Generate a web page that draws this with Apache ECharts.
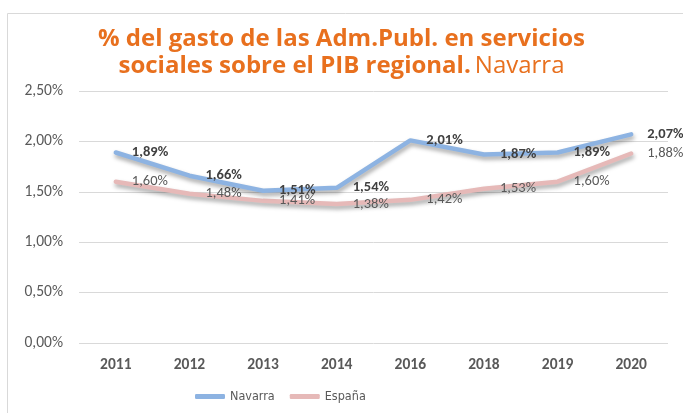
<!DOCTYPE html>
<html>
<head>
<meta charset="utf-8">
<script src="https://cdn.jsdelivr.net/npm/echarts@6/dist/echarts.min.js"></script>
<style>
  html, body { margin: 0; padding: 0; background: #fff; }
  #chart { width: 683px; height: 413px; }
</style>
</head>
<body>
<div id="chart"></div>
<script>
// data
const years = ['2011', '2012', '2013', '2014', '2016', '2018', '2019', '2020'];
const navarra = [1.89, 1.66, 1.51, 1.54, 2.01, 1.87, 1.89, 2.07];
const espana = [1.60, 1.48, 1.41, 1.38, 1.42, 1.53, 1.60, 1.88];
const yTicks = [0, 0.5, 1, 1.5, 2, 2.5];

const pct = v => v.toFixed(2).replace('.', ',') + '%';

const chart = echarts.init(document.getElementById('chart'));

const shadow = {
  shadowColor: 'rgba(0,0,0,0.35)',
  shadowBlur: 4,
  shadowOffsetY: 3,
  shadowOffsetX: 1,
};

chart.setOption({
  animation: false,
  textStyle: { fontFamily: 'Calibri, Carlito, "Open Sans", sans-serif' },
  graphic: [
    {
      type: 'rect',
      shape: { x: 7.5, y: 13.5, width: 700, height: 440 },
      style: { fill: 'none', stroke: '#d9d9d9', lineWidth: 1 },
      silent: true,
      z: -1,
    },
  ],
  title: {
    left: 'center',
    top: 21,
    padding: [5, 0, 5, 14],
    text: '{b|% del gasto de las Adm.Publ. en servicios}\n{b|sociales sobre el PIB regional.} {n|Navarra}',
    textStyle: {
      rich: {
        b: {
          fontFamily: '"Open Sans", sans-serif',
          fontWeight: 'bold',
          fontSize: 24,
          color: '#e8701e',
          lineHeight: 27,
        },
        n: {
          fontFamily: '"Open Sans", sans-serif',
          fontWeight: 'normal',
          fontSize: 24,
          color: '#e8701e',
          lineHeight: 27,
        },
      },
    },
  },
  legend: {
    bottom: 5,
    left: 190,
    itemWidth: 30,
    itemHeight: 5,
    itemGap: 15,
    icon: 'roundRect',
    textStyle: { color: '#595959', fontSize: 12.5, fontFamily: '"Liberation Sans Narrow", "DejaVu Sans Condensed", sans-serif' },
    data: ['Navarra', 'España'],
  },
  grid: { left: 79, right: 15, top: 91, bottom: 70 },
  xAxis: {
    type: 'category',
    data: years,
    boundaryGap: true,
    axisLine: { show: false },
    axisTick: { show: false },
    axisLabel: { color: '#595959', fontWeight: 'bold', fontSize: 15.5, margin: 14 },
  },
  yAxis: {
    type: 'value',
    min: yTicks[0],
    max: yTicks[yTicks.length - 1],
    interval: 0.5,
    axisLine: { show: false },
    axisTick: { show: false },
    splitLine: { lineStyle: { color: '#d9d9d9' } },
    axisLabel: { color: '#595959', fontSize: 15.5, margin: 16, formatter: v => pct(v) },
  },
  series: [
    {
      name: 'Navarra',
      type: 'line',
      data: navarra,
      symbol: 'circle',
      symbolSize: 0.1,
      showSymbol: true,
      color: '#8db3e2',
      lineStyle: Object.assign({ width: 4.5, color: '#8db3e2', cap: 'round' }, shadow),
      label: {
        show: true,
        position: 'right',
        distance: 16,
        fontWeight: 'bold',
        fontSize: 14.5,
        color: '#404040',
        formatter: p => pct(p.value),
      },
      labelLayout: { hideOverlap: false },
      z: 3,
    },
    {
      name: 'España',
      type: 'line',
      data: espana,
      symbol: 'circle',
      symbolSize: 0.1,
      showSymbol: true,
      color: '#e6b9b8',
      lineStyle: Object.assign({ width: 4.5, color: '#e6b9b8', cap: 'round' }, shadow),
      label: {
        show: true,
        position: 'right',
        distance: 16,
        fontSize: 14.5,
        color: '#595959',
        formatter: p => pct(p.value),
      },
      labelLayout: { hideOverlap: false },
      z: 2,
    },
  ],
});
</script>
</body>
</html>
